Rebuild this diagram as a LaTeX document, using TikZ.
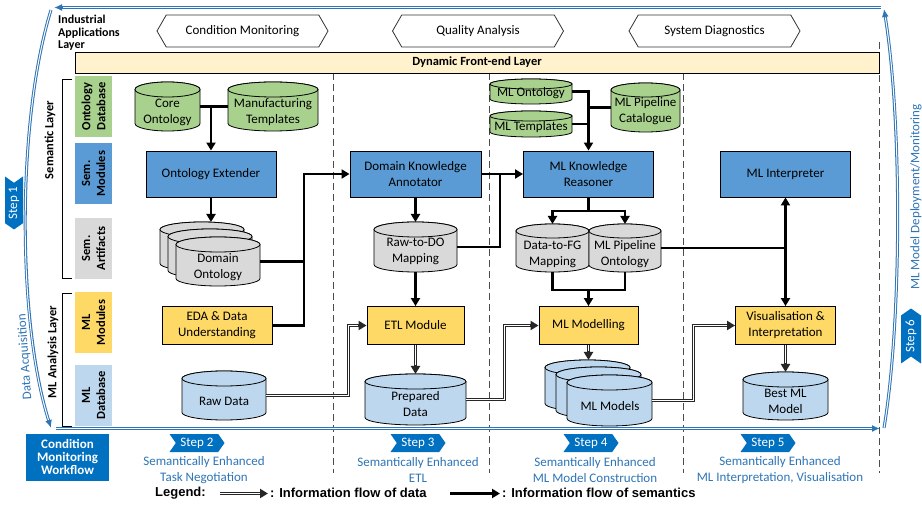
\documentclass[tikz,border=0pt]{standalone}
\usepackage{fontspec}
\setmainfont{Carlito}
\newfontfamily\legfont{Liberation Sans}
\usetikzlibrary{arrows.meta,shapes.symbols,fit,calc}

\definecolor{modblue}{HTML}{5B9BD5}
\definecolor{modyel}{HTML}{FFD966}
\definecolor{dbgreen}{HTML}{A9D18E}
\definecolor{artgray}{HTML}{D9D9D9}
\definecolor{dblight}{HTML}{BDD7EE}
\definecolor{bandcol}{HTML}{FFF2CC}
\definecolor{darkblue}{HTML}{0070C0}
\definecolor{txtblue}{HTML}{2E75B6}
\definecolor{frameblue}{HTML}{2E75B6}

\tikzset{
 every node/.style={font=\fontsize{13}{16}\selectfont, text=black},
 modbox/.style={draw=black, line width=0.9pt, fill=modblue, align=center, minimum width=130pt, minimum height=46pt, inner sep=2pt},
 yelbox/.style={draw=black, line width=0.9pt, fill=modyel, align=center, minimum height=38pt, inner sep=2pt},
 cylst/.style={draw=black, line width=0.8pt},
 cyltext/.style={align=center, inner sep=0pt},
 layerlab/.style={rotate=90, minimum width=61pt, minimum height=37pt, inner sep=0pt, align=center, font=\fontsize{12.5}{15}\selectfont\bfseries},
 sem/.style={draw=black, line width=2.6pt, -{Triangle[length=8pt,width=9pt]}},
 semline/.style={draw=black, line width=2.6pt},
 data/.style={draw=black!85, line width=3pt, -{Triangle[length=8pt,width=9pt]}, postaction={draw=white, line width=1pt, -, shorten >=8.5pt}},
 frame/.style={draw=frameblue, line width=3pt, -{Latex[length=8pt,width=7pt]}, postaction={draw=white, line width=1pt, -, shorten >=8.5pt}},
 colsep/.style={draw=black!70, line width=1pt, dash pattern=on 7pt off 4pt},
 hexa/.style={signal, signal to=east and west, signal pointer angle=120, draw=black!80, line width=0.8pt, fill=white, minimum width=171pt, minimum height=32pt},
 stepch/.style={signal, signal to=east, signal from=west, signal pointer angle=110, fill=darkblue, text=white, minimum width=55pt, minimum height=18pt, inner sep=0pt},
 steptxt/.style={text=txtblue, align=center, font=\fontsize{13}{15.5}\selectfont},
}

\newcommand\mycyl[7]{%
  \pgfmathsetmacro\cylrx{(#4-#2)/2}%
  \pgfmathsetmacro\cylcx{(#4+#2)/2}%
  \pgfmathsetmacro\cylya{#3+#7}%
  \pgfmathsetmacro\cylyb{#5-#7}%
  \filldraw[cylst,fill=#6] (#2,\cylya) -- (#2,\cylyb) arc[start angle=180,end angle=360,x radius=\cylrx pt,y radius=#7pt] -- (#4,\cylya) arc[start angle=0,end angle=180,x radius=\cylrx pt,y radius=#7pt] -- cycle;
  \filldraw[cylst,fill=#6] (\cylcx,\cylya) ellipse[x radius=\cylrx pt,y radius=#7pt];
  \coordinate (#1-nw) at (#2,#3);
  \coordinate (#1-se) at (#4,#5);
  \node[fit=(#1-nw)(#1-se),inner sep=0pt,outer sep=0pt] (#1) {};
}

\begin{document}
\begin{tikzpicture}[x=1pt,y=-1pt]
\useasboundingbox (0,0) rectangle (922,505);
\fill[white] (0,0) rectangle (922,505);

% column separators
\draw[colsep] (333,73) -- (333,473);
\draw[colsep] (489,73) -- (489,473);
\draw[colsep] (683,73) -- (683,473);
\draw[colsep] (879,42) -- (879,473);

% industrial applications layer
\node[anchor=west, align=left, font=\fontsize{12}{12.5}\selectfont\bfseries, inner sep=0pt] (ial) at (58,33) {Industrial\\Applications\\Layer};
\node[hexa] (h1) at (242.5,31) {Condition Monitoring};
\node[hexa] (h2) at (478,31) {Quality Analysis};
\node[hexa] (h3) at (714.5,31) {System Diagnostics};

% band
\node[draw=black, line width=0.9pt, fill=bandcol, minimum width=804pt, minimum height=21pt, inner sep=0pt, font=\fontsize{12.5}{14}\selectfont\bfseries] (band) at (477,62.5) {Dynamic Front-end Layer};

% layer labels
\node[layerlab, fill=dbgreen] (ll1) at (93.5,106.5) {Ontology\\Database};
\node[layerlab, fill=modblue] (ll2) at (93.5,173.5) {Sem.\\Modules};
\node[layerlab, fill=artgray] (ll3) at (93.5,248.5) {Sem.\\Artifacts};
\node[layerlab, fill=modyel] (ll4) at (93.5,322.5) {ML\\Modules};
\node[layerlab, fill=dblight] (ll5) at (93.5,395.5) {ML\\Database};

% brackets
\draw[line width=0.9pt] (72,79) -- (62,79) -- (62,278) -- (72,278);
\draw[line width=0.9pt] (72,293) -- (62,293) -- (62,426) -- (72,426);
\node[rotate=90, font=\fontsize{12.5}{14}\selectfont\bfseries] (semlay) at (50,140) {Semantic Layer};
\node[rotate=90, font=\fontsize{12.5}{14}\selectfont\bfseries, inner sep=1pt] (mllay) at (53,352) {ML Analysis Layer};

% ---------- column 1
\mycyl{core}{135}{82}{200}{131}{dbgreen}{7.5}
\node[cyltext] (core-t) at (167.5,112) {Core\\Ontology};
\mycyl{manu}{228}{82}{318}{131}{dbgreen}{7.5}
\node[cyltext] (manu-t) at (273,112) {Manufacturing\\Templates};
\node[modbox] (ext) at (211,174) {Ontology Extender};
\mycyl{dom3}{160}{222}{244}{271}{artgray}{7.5}
\mycyl{dom2}{168}{229}{252}{278}{artgray}{7.5}
\mycyl{dom}{176}{237}{260}{286}{artgray}{7.5}
\node[cyltext] (dom-t) at (218,267) {Domain\\Ontology};
\node[yelbox, minimum width=110pt] (eda) at (217,325.5) {EDA \& Data\\Understanding};
\mycyl{raw}{182}{371}{266}{420}{dblight}{7.5}
\node[cyltext] (raw-t) at (224,401.5) {Raw Data};

% ---------- column 2
\node[modbox, minimum width=131pt] (ann) at (415.5,174) {Domain Knowledge\\Annotator};
\mycyl{r2do}{374}{222}{457}{272}{artgray}{7.5}
\node[cyltext] (r2do-t) at (415.5,251) {Raw-to-DO\\Mapping};
\node[yelbox, minimum width=97pt] (etl) at (415.5,325.5) {ETL Module};
\mycyl{prep}{365}{374}{466}{425}{dblight}{7.5}
\node[cyltext] (prep-t) at (415.5,404) {Prepared\\Data};

% ---------- column 3
\mycyl{mlo}{490}{79}{572}{104}{dbgreen}{5}
\node[cyltext] (mlo-t) at (531,93) {ML Ontology};
\mycyl{mlt}{490}{111}{572}{137}{dbgreen}{5}
\node[cyltext] (mlt-t) at (531,127) {ML Templates};
\mycyl{cat}{611}{83}{680}{132}{dbgreen}{7}
\node[cyltext] (cat-t) at (645.5,111.5) {ML Pipeline\\Catalogue};
\node[modbox] (rea) at (588.5,174) {ML Knowledge\\Reasoner};
\mycyl{d2fg}{516}{224}{589}{272}{artgray}{7}
\node[cyltext] (d2fg-t) at (552.5,254) {Data-to-FG\\Mapping};
\mycyl{mlpo}{589}{224}{661}{272}{artgray}{7}
\node[cyltext] (mlpo-t) at (625,254) {ML Pipeline\\Ontology};
\node[yelbox, minimum width=99pt] (mlm) at (588.5,325.5) {ML Modelling};
\mycyl{mlms3}{545}{360}{630}{411}{dblight}{7.5}
\mycyl{mlms2}{556}{367}{641}{418}{dblight}{7.5}
\mycyl{mlms}{567}{375}{652}{426}{dblight}{7.5}
\node[cyltext] (mlms-t) at (610,406) {ML Models};

% ---------- column 4
\node[modbox] (interp) at (785.5,174) {ML Interpreter};
\node[yelbox, minimum width=100pt] (vis) at (785.5,325.5) {Visualisation \&\\Interpretation};
\mycyl{best}{743}{372}{828}{420}{dblight}{7.5}
\node[cyltext] (best-t) at (785.5,401) {Best ML\\Model};

% ---------- helper coordinates
\coordinate (colA) at (304,0);
\coordinate (colB) at (348.5,0);
\coordinate (colD) at (504.5,0);
\coordinate (colE) at (693.5,0);
\coordinate (jC) at (500,174);
\coordinate (jR) at (588.5,211);
\coordinate (jM) at (588.5,290);

% ---------- semantic connectors
\draw[semline] (core.east) -- (manu.west);
\draw[sem] (ext.north |- core.east) -- (ext.north);
\draw[sem] (ext.south) -- (ext.south |- dom3.north);
\draw[semline] (dom.east) -- (dom.east -| colA);
\draw[sem] (eda.east) -- (eda.east -| colA) |- (ann.west);
\draw[sem] (ann.east) -- (rea.west);
\draw[semline] (r2do.east) -| (jC);
\draw[sem] (ann.south) -- (r2do.north);
\draw[sem] (r2do.south) -- (etl.north);
\draw[sem] (mlo.east) -| (rea.north);
\draw[semline] (mlt.east) -- (mlt.east -| rea.north);
\draw[semline] (cat.west) -- (cat.west -| rea.north);
\draw[semline] (rea.south) -- (jR);
\draw[sem] (jR) -| (d2fg.north);
\draw[sem] (jR) -| (mlpo.north);
\draw[semline] (d2fg.south) |- (jM) -| (mlpo.south);
\draw[sem] (jM) -- (mlm.north);
\draw[semline] (mlpo.east) -- (mlpo.east -| interp.south);
\draw[semline, {Triangle[length=8pt,width=9pt]}-{Triangle[length=8pt,width=9pt]}] (interp.south) -- (vis.north);

% ---------- data connectors
\draw[data] (raw.east) -- (raw.east -| colB) |- (etl.west);
\draw[data] (etl.south) -- (prep.north);
\draw[data] (prep.east) -- (prep.east -| colD) |- (mlm.west);
\draw[data] (mlm.south) -- (mlm.south |- mlms3.north);
\draw[data] (mlms.east) -- (mlms.east -| colE) |- (vis.west);
\draw[data] (vis.south) -- (best.north);

% ---------- workflow frame
\coordinate (ftr) at (881,7.5);
\coordinate (ftl) at (54,7.5);
\coordinate (fl1) at (51,10);
\coordinate (fl2) at (51,428);
\coordinate (fb1) at (56,428.5);
\coordinate (fb2) at (880,428.5);
\coordinate (fr1) at (884,428);
\coordinate (fr2) at (884,9);
\draw[frame] (ftr) -- (ftl);
\draw[frame] (fl1) .. controls (17,120) and (17,320) .. (fl2);
\draw[frame] (fb1) -- (fb2);
\draw[frame] (fr1) .. controls (902,320) and (902,120) .. (fr2);

\node[stepch, signal to=west, signal from=east, rotate=90, minimum width=53pt] (s1) at (14,203) {Step 1};
\node[rotate=94, text=txtblue, inner sep=1pt] (daq) at (25,357) {Data Acquisition};
\node[stepch, rotate=90, minimum width=55pt, minimum height=20pt] (s6) at (911,336) {Step 6};
\node[rotate=90, text=txtblue, inner sep=1pt] (mdm) at (916,197) {ML Model Deployment/Monitoring};

% ---------- bottom
\node[fill=darkblue, text=white, align=center, minimum width=83pt, minimum height=47pt, inner sep=0pt, font=\fontsize{13}{13}\selectfont\bfseries] (cmw) at (67.5,457) {Condition\\Monitoring\\Workflow};
\node[stepch] (s2) at (197,443) {Step 2};
\node[steptxt] (t2) at (204,470) {Semantically Enhanced\\Task Negotiation};
\node[stepch] (s3) at (418,443) {Step 3};
\node[steptxt] (t3) at (418,470) {Semantically Enhanced\\ETL};
\node[stepch] (s4) at (591,443) {Step 4};
\node[steptxt] (t4) at (595,470) {Semantically Enhanced\\ML Model Construction};
\node[stepch] (s5) at (768,443) {Step 5};
\node[steptxt] (t5) at (780,470) {Semantically Enhanced\\ML Interpretation, Visualisation};

% ---------- legend
\node[anchor=west, inner sep=0pt, font=\legfont\fontsize{13}{15}\selectfont\bfseries] (lg) at (155,493) {Legend:};
\node[anchor=west, inner sep=0pt, font=\legfont\fontsize{13}{15}\selectfont\bfseries] (ld) at (270,493) {: Information flow of data};
\node[anchor=west, inner sep=0pt, font=\legfont\fontsize{13}{15}\selectfont\bfseries] (ls) at (502,493) {: Information flow of semantics};
\coordinate (la1) at (220,493.5);
\coordinate (la2) at (268,493.5);
\coordinate (lb1) at (450,493.5);
\coordinate (lb2) at (500,493.5);
\draw[data] (la1) -- (la2);
\draw[sem] (lb1) -- (lb2);
\end{tikzpicture}
\end{document}
